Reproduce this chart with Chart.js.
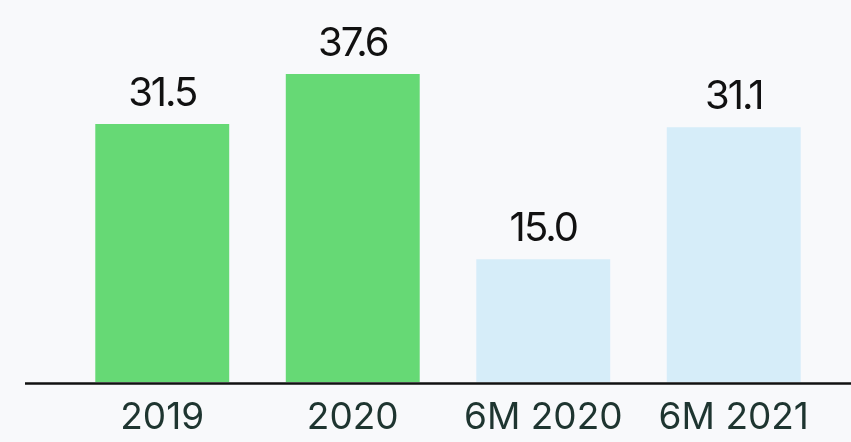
<!DOCTYPE html>
<html>
<head>
<meta charset="utf-8">
<script src="https://cdn.jsdelivr.net/npm/chart.js@4"></script>
<style>
  html, body { margin: 0; padding: 0; background: #f8f9fb; }
  #wrap { width: 851px; height: 442px; position: relative; }
</style>
</head>
<body>
<div id="wrap"><canvas id="myChart"></canvas></div>
<script>
const categorias = ['2019', '2020', '6M 2020', '6M 2021'];
const valores = [31.5, 37.6, 15.0, 31.1];
const etiquetas = ['31.5', '37.6', '15.0', '31.1'];
const colores = ['#66d975', '#66d975', '#d6edf9', '#d6edf9'];

// etiquetas de valor encima de cada barra
const etiquetasPlugin = {
    id: 'etiquetas',
    afterDatasetsDraw(chart) {
        const ctx = chart.ctx;
        const meta = chart.getDatasetMeta(0);
        ctx.save();
        ctx.font = '40px Inter';
        ctx.letterSpacing = '-2px';
        ctx.fillStyle = '#111111';
        ctx.textAlign = 'center';
        ctx.textBaseline = 'alphabetic';
        meta.data.forEach(function(bar, i) {
            ctx.fillText(etiquetas[i], bar.x, bar.y - 18);
        });
        ctx.restore();
    }
};

// linea base que cruza todo el ancho
const lineaBase = {
    id: 'lineaBase',
    afterDatasetsDraw(chart) {
        const ctx = chart.ctx;
        const y = chart.scales.y.getPixelForValue(0);
        ctx.save();
        ctx.strokeStyle = '#111111';
        ctx.lineWidth = 2.5;
        ctx.beginPath();
        ctx.moveTo(25, y + 1.5);
        ctx.lineTo(chart.width, y + 1.5);
        ctx.stroke();
        ctx.restore();
    }
};

const ctx = document.getElementById('myChart').getContext('2d');
new Chart(ctx, {
    type: 'bar',
    data: {
        labels: categorias,
        datasets: [{
            data: valores,
            backgroundColor: colores,
            borderWidth: 0,
            barPercentage: 0.703,
            categoryPercentage: 1
        }]
    },
    options: {
        responsive: true,
        maintainAspectRatio: false,
        animation: false,
        layout: { padding: { left: 67, right: 22, top: 0, bottom: 0 } },
        plugins: {
            legend: { display: false },
            tooltip: { enabled: false }
        },
        scales: {
            x: {
                grid: { display: false, drawTicks: false },
                border: { display: false },
                ticks: {
                    color: '#1e3530',
                    font: { family: 'Inter', size: 37 },
                    padding: 14
                },
                afterFit: function(scale) { scale.height = 60; }
            },
            y: {
                display: false,
                min: 0,
                max: 46.64
            }
        }
    },
    plugins: [etiquetasPlugin, lineaBase]
});
</script>
</body>
</html>
